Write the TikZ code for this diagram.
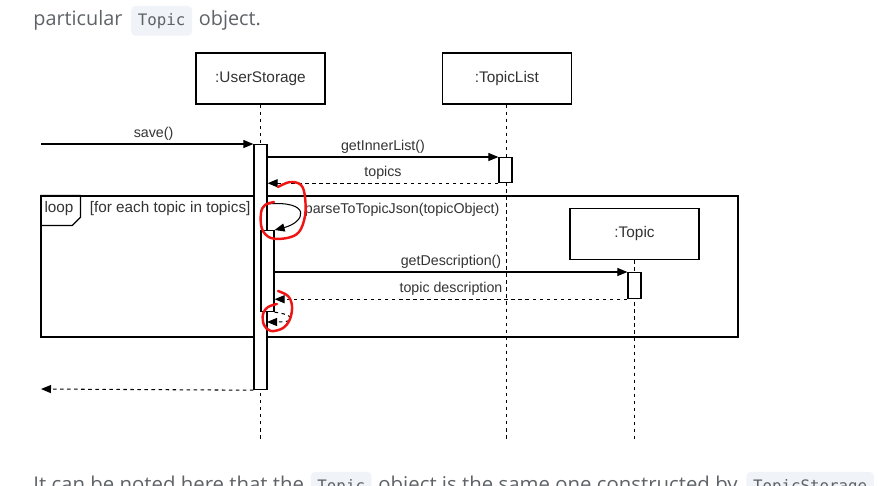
\documentclass[tikz,border=0pt]{standalone}
\usepackage{fontspec}
\setmainfont{Liberation Sans}
\newfontfamily\pagefont{Open Sans}
\newfontfamily\codefont{DejaVu Sans Mono}
\usetikzlibrary{positioning, arrows.meta, calc}
\definecolor{pagegray}{HTML}{5F6368}
\definecolor{codebg}{HTML}{F0F4F8}
\definecolor{diagtext}{HTML}{333333}
\definecolor{markred}{HTML}{F01515}

\begin{document}
\begin{tikzpicture}[
    x=0.02cm, y=-0.02cm,
    >={Triangle[length=2mm, width=1.6mm]},
    head/.style={
        rectangle, draw, line width=0.8pt, fill=white,
        minimum width=2.58cm, minimum height=1.02cm,
        font=\fontsize{8.75}{10}\selectfont, text=diagtext
    },
    act/.style={
        rectangle, draw, line width=0.7pt, fill=white, anchor=north,
        minimum width=0.26cm, inner sep=0pt
    },
    frame/.style={rectangle, draw, line width=0.7pt, inner sep=0pt},
    life/.style={dash pattern=on 2pt off 2pt, line width=0.6pt},
    call/.style={->, line width=0.6pt},
    reply/.style={->, dash pattern=on 2pt off 2pt, line width=0.6pt},
    msg/.style={font=\fontsize{8.1}{9.5}\selectfont, text=diagtext, inner sep=2pt},
    tagtext/.style={font=\fontsize{8.7}{10}\selectfont, text=diagtext, inner sep=2pt},
    pagetxt/.style={font=\pagefont\fontsize{11.3}{13}\selectfont, text=pagegray, inner sep=0pt},
    pagecode/.style={
        fill=codebg, rounded corners=2.5pt, inner xsep=3.8pt,
        text height=1.6ex, text depth=0.7ex, inner ysep=2.4pt,
        font=\codefont\fontsize{9}{11}\selectfont, text=pagegray
    },
    redmark/.style={draw=markred, line width=1.4pt, line cap=round, line join=round}
]
\useasboundingbox (0,0) rectangle (878,485);
\fill[white] (0,0) rectangle (878,485);

%% ---- Surrounding page text ----
\node[pagetxt, anchor=base west] (ptxt) at (33,25) {particular};
\node[pagecode, base right=0.16cm of ptxt] (pcode) {Topic};
\node[pagetxt, base right=0.12cm of pcode] (ptxt2) {object.};

% next paragraph, cut by the lower edge
\node[pagetxt, font=\pagefont\fontsize{11.6}{13}\selectfont, anchor=base west] (btxt) at (33,491) {It can be noted here that the};
\node[pagecode, base right=0.12cm of btxt] (bcode) {Topic};
\node[pagetxt, font=\pagefont\fontsize{11.6}{13}\selectfont, base right=0.12cm of bcode] (btxt2) {object is the same one constructed by};
\node[pagecode, base right=0.16cm of btxt2] (bcode2) {TopicStorage};

%% ---- Loop frame ----
\node[frame, minimum width=13.94cm, minimum height=2.82cm] (loopbox) at (389.5,266.5) {};
\draw[line width=0.7pt] (loopbox.north west) -- ++(40,0) -- ++(0,22) -- ++(-8,8) -- ++(-32,0);
\node[tagtext] (looptag) at (59,209) {loop};
\node[tagtext, anchor=west] (guard) at (86,209) {[for each topic in topics]};

%% ---- Lifelines ----
\coordinate (bottom) at (0,440);
\node[head] (us) at (260.5,78.5) {:UserStorage};
\node[head, right=2.32cm of us] (tl) {:TopicList};
\node[head] (tp) at (634.5,234) {:Topic};

\draw[life] (us.south) -- (us.south |- bottom);
\draw[life] (tl.south) -- (tl.south |- bottom);
\draw[life] (tp.south) -- (tp.south |- bottom);

%% ---- Activations ----
\node[act, minimum height=4.9cm] (usact) at (260.5,144) {};
\node[act, minimum height=0.5cm] (tlact) at (505.5,157) {};
\node[act, minimum height=1.62cm] (nact) at (267.5,230) {};
\node[act, minimum height=0.52cm] (tpact) at (634.5,272) {};

%% ---- Messages ----
\coordinate (caller) at (41,144);
\coordinate (back) at (41,389);
\coordinate (selfout) at (267,204);
\coordinate (selfback) at (267,322);

\draw[call] (caller) -- (usact.north west) node[msg, pos=0.53, above] {save()};
\draw[call] (usact.east |- tlact.north) -- (tlact.north west) node[msg, midway, above] {getInnerList()};
\draw[reply] (tlact.south west) -- (tlact.south west -| usact.east) node[msg, midway, above] {topics};

\draw[call] (selfout) .. controls (312,200) and (306,222) .. (nact.north east);
\node[msg, anchor=west] (selflabel) at (301,210) {parseToTopicJson(topicObject)};

\draw[call] (nact.east |- tpact.north) -- (tpact.north west) node[msg, midway, above] {getDescription()};
\draw[reply] (tpact.south west) -- (tpact.south west -| nact.east) node[msg, midway, above] {topic description};

\draw[reply] (nact.south east) .. controls (292,314) and (300,322) .. (selfback);
\draw[reply] (usact.south west) -- (back);

%% ---- Red marks ----
\draw[redmark] plot[smooth, tension=0.6] coordinates {
    (278,187) (290,182) (301,185) (305,197) (305,216) (299,232) (287,238)
    (271,238) (262,229) (261,213) (265,205) (274,202)};
\draw[redmark] plot[smooth, tension=0.6] coordinates {
    (278,291) (288,296) (292,306) (290,319) (283,328) (271,331) (264,325)
    (263,314) (268,307) (277,304)};

\end{tikzpicture}
\end{document}
